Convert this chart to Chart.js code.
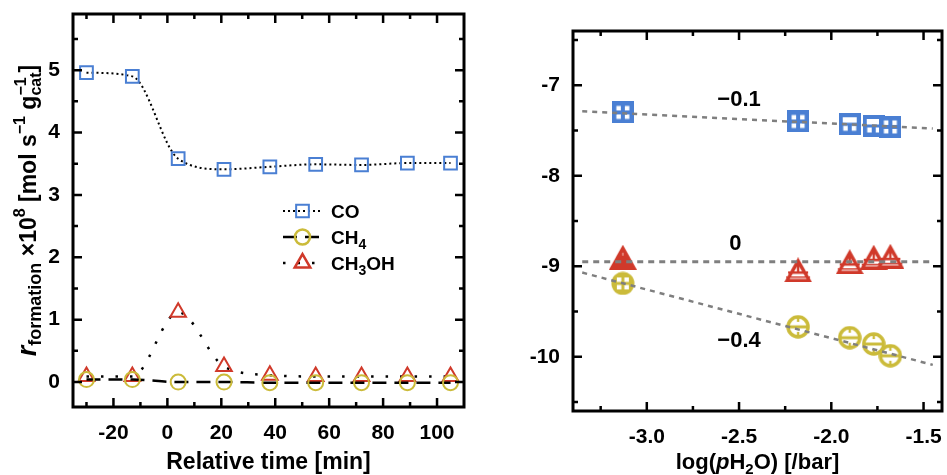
<!DOCTYPE html>
<html>
<head>
<meta charset="utf-8">
<script src="https://cdn.jsdelivr.net/npm/chart.js@4.4.1/dist/chart.umd.min.js"></script>
<style>
  body { margin: 0; background: #fff; }
  #wrap { position: relative; width: 947px; height: 475px; }
  canvas { position: absolute; top: 0; }
  #left { left: 0; }
  #right { left: 475px; }
</style>
</head>
<body>
<div id="wrap">
  <canvas id="left" width="475" height="475"></canvas>
  <canvas id="right" width="472" height="475"></canvas>
</div>
<script>
// ---- left panel: formation rate vs relative time (x 1e-8 mol/s/g_cat)
var timeMin = [-30, -13, 4, 21, 38, 55, 72, 89, 105];
var rateCO = [4.96, 4.90, 3.58, 3.41, 3.45, 3.49, 3.48, 3.51, 3.51];
var rateCH4 = [0.04, 0.04, 0.00, 0.00, -0.01, -0.01, -0.01, -0.01, -0.01];
var rateCH3OH = [0.09, 0.09, 1.12, 0.25, 0.11, 0.09, 0.09, 0.09, 0.09];
var timeTicks = [-20, 0, 20, 40, 60, 80, 100];
var rateTicks = [0, 1, 2, 3, 4, 5];

// ---- right panel: log rate vs log p(H2O)
var logPH2O = [-3.13, -2.18, -1.90, -1.77, -1.68];
var logRateCO = [-7.30, -7.40, -7.43, -7.45, -7.46];
var logRateCH3OH = [-8.90, -9.04, -8.95, -8.90, -8.89];
var logRateCH4 = [-9.19, -9.67, -9.79, -9.86, -9.99];
var fitX = [-3.35, -1.45];
var fitCO = [-7.288, -7.478];
var fitCH3OH = [-8.95, -8.95];
var fitCH4 = [-9.07, -10.09];
var slopeLabels = ['\u22120.1', '0', '\u22120.4'];
var logPTicks = [-3.0, -2.5, -2.0, -1.5];
var logRateTicks = [-10, -9, -8, -7];

var FONT = '"Liberation Sans", Arial, Helvetica, sans-serif';
var BLUE = '#4a7fd3', YELLOW = '#cbbb3a', RED = '#d0392a', GREY = '#7f7f7f';

Chart.defaults.font.family = FONT;
Chart.defaults.font.weight = 'bold';
Chart.defaults.color = '#000';

function xy(xs, ys) {
  return xs.map(function(x, i) { return {x: x, y: ys[i]}; });
}

// rich text: parts drawn one after the other on a baseline
function partFont(size, it) {
  return (it ? 'italic ' : '') + 'bold ' + size + 'px ' + FONT;
}
function partWidth(ctx, p) {
  if (p.stack) {
    ctx.font = partFont(p.size);
    return Math.max(ctx.measureText(p.sup).width, ctx.measureText(p.sub).width);
  }
  ctx.font = partFont(p.size, p.it);
  return ctx.measureText(p.t).width;
}
function richWidth(ctx, parts) {
  var w = 0;
  parts.forEach(function(p) { w += partWidth(ctx, p); });
  return w;
}
function drawRich(ctx, parts, x, y) {
  ctx.textAlign = 'left';
  ctx.textBaseline = 'alphabetic';
  parts.forEach(function(p) {
    var w = partWidth(ctx, p);
    if (p.stack) {
      ctx.font = partFont(p.size);
      ctx.fillText(p.sup, x, y - 10);
      ctx.fillText(p.sub, x, y + 5);
    } else {
      ctx.font = partFont(p.size, p.it);
      ctx.fillText(p.t, x, y + (p.dy || 0));
    }
    x += w;
  });
}

// box frame with inward major/minor ticks on all four sides, plus axis titles
var framePlugin = {
  id: 'frame',
  afterDraw: function(chart, args, o) {
    var ctx = chart.ctx, a = chart.chartArea;
    var xs = chart.scales.x, ys = chart.scales.y;
    ctx.save();
    ctx.strokeStyle = '#000';
    ctx.lineWidth = 2.5;
    function loop(scale, step, fn) {
      var minor = step / 2;
      var v = Math.ceil(scale.min / minor) * minor;
      for (; v < scale.max - 1e-9; v += minor) {
        if (v <= scale.min + 1e-9) continue;
        var major = Math.abs(v / step - Math.round(v / step)) < 1e-6;
        fn(scale.getPixelForValue(v), major ? 9 : 5);
      }
    }
    ctx.beginPath();
    loop(xs, o.xStep, function(px, len) {
      ctx.moveTo(px, a.bottom); ctx.lineTo(px, a.bottom - len);
      ctx.moveTo(px, a.top); ctx.lineTo(px, a.top + len);
    });
    loop(ys, o.yStep, function(py, len) {
      ctx.moveTo(a.left, py); ctx.lineTo(a.left + len, py);
      ctx.moveTo(a.right, py); ctx.lineTo(a.right - len, py);
    });
    ctx.stroke();
    ctx.lineWidth = 3;
    ctx.strokeRect(a.left, a.top, a.right - a.left, a.bottom - a.top);

    ctx.fillStyle = '#000';
    var cx = (a.left + a.right) / 2, cy = (a.top + a.bottom) / 2;
    var w = richWidth(ctx, o.xTitle);
    drawRich(ctx, o.xTitle, cx - w / 2, o.xTitleY);
    w = richWidth(ctx, o.yTitle);
    ctx.translate(o.yTitleX, cy);
    ctx.rotate(-Math.PI / 2);
    drawRich(ctx, o.yTitle, -w / 2, 0);
    ctx.restore();
  }
};

// legend inside left panel
var legendPlugin = {
  id: 'inlegend',
  afterDraw: function(chart, args, o) {
    if (!o.items) return;
    var ctx = chart.ctx;
    ctx.save();
    o.items.forEach(function(parts, i) {
      var ds = chart.data.datasets[i];
      var y = o.y + i * o.rowH;
      ctx.strokeStyle = '#000';
      ctx.lineWidth = ds.borderWidth;
      ctx.setLineDash(ds.borderDash || []);
      ctx.beginPath();
      ctx.moveTo(o.x, y); ctx.lineTo(o.x + o.lineW, y);
      ctx.stroke();
      ctx.setLineDash([]);
      ctx.strokeStyle = ds.pointBorderColor;
      ctx.fillStyle = 'rgba(0,0,0,0)';
      Chart.helpers.drawPoint(ctx, {
        pointStyle: ds.pointStyle, radius: ds.pointRadius,
        borderWidth: ds.pointBorderWidth, rotation: 0
      }, o.x + o.lineW / 2, y);
      ctx.fillStyle = '#000';
      drawRich(ctx, parts, o.x + o.lineW + 9, y + 7);
    });
    ctx.restore();
  }
};

// slope labels on the right panel
var slopePlugin = {
  id: 'slopes',
  afterDraw: function(chart, args, o) {
    if (!o.items) return;
    var ctx = chart.ctx;
    ctx.save();
    ctx.fillStyle = '#000';
    ctx.font = 'bold 22px ' + FONT;
    ctx.textAlign = 'center';
    ctx.textBaseline = 'middle';
    o.items.forEach(function(it, i) {
      ctx.fillText(slopeLabels[i], chart.scales.x.getPixelForValue(it[0]),
        chart.scales.y.getPixelForValue(it[1]));
    });
    ctx.restore();
  }
};

function axis(min, max, ticks, pad, size, fixed) {
  return {
    type: 'linear', min: min, max: max,
    afterBuildTicks: function(s) {
      s.ticks = ticks.map(function(v) { return {value: v}; });
    },
    afterFit: function(s) {
      if (s.isHorizontal()) s.height = size; else s.width = size;
      s.paddingTop = 0; s.paddingBottom = 0;
      s.paddingLeft = 0; s.paddingRight = 0;
    },
    grid: {display: false, drawTicks: false},
    border: {display: false},
    ticks: {
      color: '#000', padding: pad, maxRotation: 0, autoSkip: false,
      font: {size: 21, weight: 'bold'},
      callback: function(v) { return fixed ? v.toFixed(1) : String(v); }
    }
  };
}

// marker images for the replicate points on the right panel
function marker(w, h, draw) {
  var c = document.createElement('canvas');
  c.width = w; c.height = h;
  draw(c.getContext('2d'), w, h);
  return c;
}
var sqGrid = marker(22, 22, function(g) {
  g.fillStyle = BLUE; g.fillRect(0, 0, 22, 22);
  g.fillStyle = '#fff';
  g.fillRect(4.5, 4.5, 4.5, 4.5); g.fillRect(13, 4.5, 4.5, 4.5);
  g.fillRect(4.5, 13, 4.5, 4.5); g.fillRect(13, 13, 4.5, 4.5);
});
var sqT = marker(22, 22, function(g) {
  g.fillStyle = BLUE; g.fillRect(0, 0, 22, 22);
  g.fillStyle = '#fff';
  g.fillRect(4, 4, 14, 5.5);
  g.fillRect(4.5, 12.5, 4.5, 5); g.fillRect(13, 12.5, 4.5, 5);
});
function ring(g, s) {
  g.strokeStyle = YELLOW; g.lineWidth = 3.5;
  g.beginPath(); g.arc(s / 2, s / 2, s / 2 - 2, 0, Math.PI * 2); g.stroke();
}
var circCross = marker(24, 24, function(g) {
  g.fillStyle = YELLOW;
  g.beginPath(); g.arc(12, 12, 11.5, 0, Math.PI * 2); g.fill();
  g.fillStyle = '#fff';
  g.fillRect(6, 6, 4.5, 4.5); g.fillRect(13.5, 6, 4.5, 4.5);
  g.fillRect(6, 13.5, 4.5, 4.5); g.fillRect(13.5, 13.5, 4.5, 4.5);
});
var circBar = marker(24, 24, function(g) {
  ring(g, 24);
  g.fillStyle = YELLOW;
  g.fillRect(3, 10.5, 18, 3);
  g.fillRect(10.8, 3, 2.4, 4); g.fillRect(10.8, 17, 2.4, 4);
});
var triSolid = marker(28, 25, function(g) {
  g.fillStyle = RED;
  g.beginPath(); g.moveTo(14, 0); g.lineTo(28, 25); g.lineTo(0, 25); g.closePath(); g.fill();
  g.fillStyle = 'rgba(255,255,255,0.35)';
  g.fillRect(13, 8, 2, 3);
});
var triLines = marker(28, 25, function(g) {
  g.fillStyle = RED;
  g.beginPath(); g.moveTo(14, 0); g.lineTo(28, 25); g.lineTo(0, 25); g.closePath(); g.fill();
  g.fillStyle = '#fff';
  g.beginPath(); g.moveTo(14, 7.5); g.lineTo(22.5, 21.5); g.lineTo(5.5, 21.5); g.closePath(); g.fill();
  g.fillStyle = RED;
  g.fillRect(4, 14, 20, 2.5);
  g.fillRect(12.8, 5, 2.4, 9);
  g.fillRect(2, 19, 24, 1.5);
});

new Chart(document.getElementById('left'), {
  type: 'line',
  data: {
    datasets: [{
      label: 'CO', data: xy(timeMin, rateCO),
      borderColor: '#000', borderWidth: 2, borderDash: [2, 3],
      cubicInterpolationMode: 'monotone',
      pointStyle: 'rect', pointRadius: 9, pointBorderWidth: 2,
      pointBorderColor: BLUE, pointBackgroundColor: 'rgba(0,0,0,0)'
    }, {
      label: 'CH4', data: xy(timeMin, rateCH4),
      borderColor: '#000', borderWidth: 2.5, borderDash: [14, 8],
      cubicInterpolationMode: 'monotone',
      pointStyle: 'circle', pointRadius: 7.5, pointBorderWidth: 2,
      pointBorderColor: YELLOW, pointBackgroundColor: 'rgba(0,0,0,0)'
    }, {
      label: 'CH3OH', data: xy(timeMin, rateCH3OH),
      borderColor: '#000', borderWidth: 2.5, borderDash: [2.5, 12],
      cubicInterpolationMode: 'monotone',
      pointStyle: 'triangle', pointRadius: 9, pointBorderWidth: 2,
      pointBorderColor: RED, pointBackgroundColor: 'rgba(0,0,0,0)'
    }]
  },
  options: {
    responsive: false, animation: false,
    layout: {padding: {left: 0, top: 14, right: 7, bottom: 0}},
    scales: {
      x: axis(-35, 110, timeTicks, 14, 68, false),
      y: axis(-0.4, 5.9, rateTicks, 13, 73, false)
    },
    plugins: {
      legend: {display: false}, tooltip: {enabled: false},
      frame: {
        xStep: 20, yStep: 1, xTitleY: 469, yTitleX: 36,
        xTitle: [{t: 'Relative time [min]', size: 23}],
        yTitle: [
          {t: 'r', size: 27, it: true}, {t: 'formation', size: 18, dy: 5},
          {t: ' \u00d710', size: 23}, {t: '8', size: 16, dy: -11},
          {t: ' [mol s', size: 23}, {t: '\u22121', size: 16, dy: -11},
          {t: ' g', size: 23}, {stack: true, sup: '\u22121', sub: 'cat', size: 16},
          {t: ']', size: 23}
        ]
      },
      inlegend: {
        x: 283, y: 211, rowH: 26, lineW: 39,
        items: [
          [{t: 'CO', size: 19}],
          [{t: 'CH', size: 19}, {t: '4', size: 14, dy: 5}],
          [{t: 'CH', size: 19}, {t: '3', size: 14, dy: 5}, {t: 'OH', size: 19}]
        ]
      }
    }
  },
  plugins: [framePlugin, legendPlugin]
});

new Chart(document.getElementById('right'), {
  type: 'scatter',
  data: {
    datasets: [
      {data: xy(fitX, fitCO), showLine: true, pointRadius: 0, borderColor: GREY, borderWidth: 2.5, borderDash: [5, 5]},
      {data: xy(fitX, fitCH3OH), showLine: true, pointRadius: 0, borderColor: GREY, borderWidth: 3, borderDash: [6, 5]},
      {data: xy(fitX, fitCH4), showLine: true, pointRadius: 0, borderColor: GREY, borderWidth: 2.5, borderDash: [5, 5]},
      {label: 'CO', data: xy(logPH2O, logRateCO), pointStyle: [sqGrid, sqGrid, sqT, sqT, sqGrid]},
      {label: 'CH3OH', data: xy(logPH2O, logRateCH3OH), pointStyle: [triSolid, triLines, triLines, triLines, triLines]},
      {label: 'CH4', data: xy(logPH2O, logRateCH4), pointStyle: [circCross, circBar, circBar, circBar, circBar]}
    ]
  },
  options: {
    responsive: false, animation: false,
    layout: {padding: {left: 0, top: 31, right: 2, bottom: 0}},
    scales: {
      x: axis(-3.4, -1.4, logPTicks, 14, 64, true),
      y: axis(-10.6, -6.4, logRateTicks, 13, 98, false)
    },
    plugins: {
      legend: {display: false}, tooltip: {enabled: false},
      frame: {
        xStep: 0.5, yStep: 1, xTitleY: 469, yTitleX: 522,
        xTitle: [
          {t: 'log(', size: 22}, {t: 'p', size: 22, it: true}, {t: 'H', size: 22},
          {t: '2', size: 15, dy: 5}, {t: 'O) [/bar]', size: 22}
        ],
        yTitle: [
          {t: 'log(', size: 22}, {t: 'r', size: 22, it: true}, {t: 'i', size: 15, it: true, dy: 5},
          {t: ') [/mol s', size: 22}, {t: '\u22121', size: 15, dy: -10},
          {t: ' g', size: 22}, {stack: true, sup: '\u22121', sub: 'cat', size: 15},
          {t: ']', size: 22}
        ]
      },
      slopes: {items: [[-2.50, -7.16], [-2.52, -8.75], [-2.50, -9.83]]}
    }
  },
  plugins: [framePlugin, slopePlugin]
});
</script>
</body>
</html>
